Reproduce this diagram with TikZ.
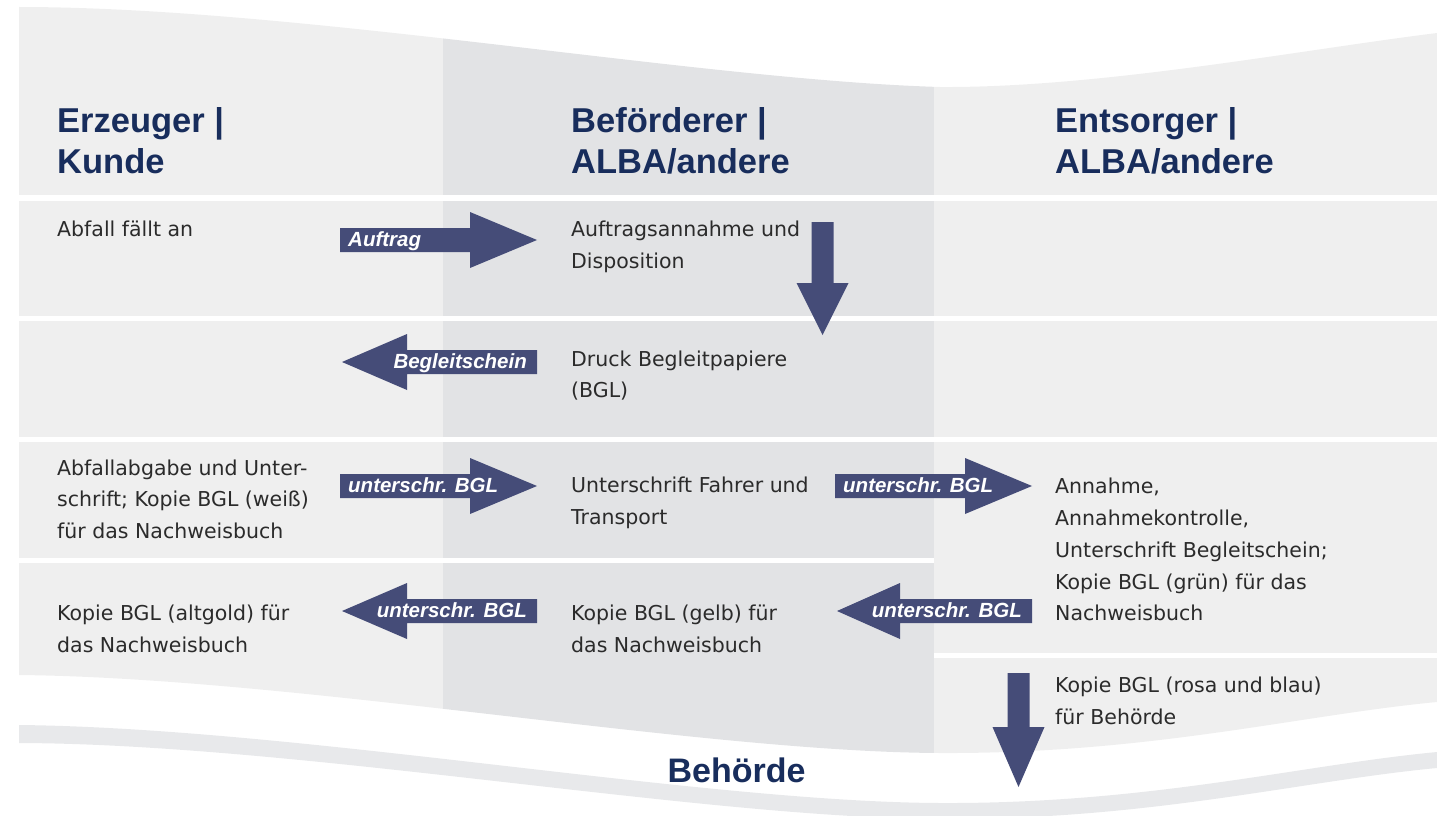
\documentclass[tikz,border=0pt]{standalone}
\usepackage{fontspec}
\setmainfont{Liberation Sans}
\newfontfamily\bodyfont{DejaVu Sans}

\definecolor{lanelight}{HTML}{EFEFEF}
\definecolor{lanedark}{HTML}{E2E3E5}
\definecolor{bandgray}{HTML}{E8E9EB}
\definecolor{arrowblue}{HTML}{454C78}
\definecolor{headnavy}{HTML}{182D5C}
\definecolor{bodygray}{HTML}{2B2B2B}

\begin{document}
\begin{tikzpicture}[x=1pt,y=-1pt,
	lane head/.style={anchor=north west,inner sep=0,align=left,text=headnavy,font=\fontsize{34.5}{41}\selectfont\bfseries},
	lane text/.style={anchor=north west,inner sep=0,align=left,text=bodygray,font=\bodyfont\fontsize{20.5}{31.8}\selectfont},
	arrow text/.style={inner sep=0,text=white,font=\fontsize{20.5}{24}\selectfont\bfseries\itshape}]

\useasboundingbox (0,0) rectangle (1437,816);

% lanes, cut by the waves
\begin{scope}
	\clip (19,7) .. controls (300,7) and (700,80) .. (940,87) .. controls (1100,88) and (1300,50) .. (1437,33)
		-- (1437,702) .. controls (1300,715) and (1150,754) .. (940,753) .. controls (700,752) and (300,678) .. (19,675) -- cycle;
	\fill [lanelight] (19,0) rectangle (443,816);
	\fill [lanedark] (443,0) rectangle (934,816);
	\fill [lanelight] (934,0) rectangle (1437,816);
	\foreach \xa / \xb / \ya / \yb in {19/1437/195/201, 19/1437/316/321, 19/1437/437/442, 19/934/558/563, 934/1437/653/658}
		\fill [white] (\xa,\ya) rectangle (\xb,\yb);
\end{scope}

\fill [bandgray] (19,725) .. controls (300,728) and (700,802) .. (940,803) .. controls (1150,804) and (1300,765) .. (1437,752)
	-- (1437,768) .. controls (1300,781) and (1150,820) .. (940,819) .. controls (700,818) and (300,744) .. (19,743) -- cycle;

\node [lane head] (erzeuger) at (57,103.3) {\strut Erzeuger |\\Kunde};
\node [lane head] (befoerderer) at (571,103.3) {\strut Beförderer |\\ALBA/andere};
\node [lane head] (entsorger) at (1055,103.3) {\strut Entsorger |\\ALBA/andere};

\node [lane text] (anfall) at (57,214.2) {\strut Abfall fällt an};
\node [lane text] (annahme) at (571,214.2) {\strut Auftragsannahme und\\Disposition};
\node [lane text] (druck) at (571,343.7) {\strut Druck Begleitpapiere\\(BGL)};
\node [lane text] (abgabe) at (57,452.7) {\strut Abfallabgabe und Unter-\\schrift; Kopie BGL (weiß)\\für das Nachweisbuch};
\node [lane text] (transport) at (571,470.2) {\strut Unterschrift Fahrer und\\Transport};
\node [lane text] (kontrolle) at (1055,471.2) {\strut Annahme,\\Annahmekontrolle,\\Unterschrift Begleitschein;\\Kopie BGL (grün) für das\\Nachweisbuch};
\node [lane text] (altgold) at (57,598.2) {\strut Kopie BGL (altgold) für\\das Nachweisbuch};
\node [lane text] (gelb) at (571,598.2) {\strut Kopie BGL (gelb) für\\das Nachweisbuch};
\node [lane text] (rosablau) at (1055,670.2) {\strut Kopie BGL (rosa und blau)\\für Behörde};

\node [anchor=base,inner sep=0,text=headnavy,font=\fontsize{34}{40}\selectfont\bfseries] (behoerde) at (736.5,782) {Behörde};

\foreach \xa / \xb / \xc / \yy / \nm / \an / \dx / \lab in {
								340/470/537/240/auftrag/west/8/Auftrag,
								537/407/342/362/begleit/east/-10/Begleitschein,
								340/470/537/486/bglA/west/8/unterschr. BGL,
								835/965/1032/486/bglB/west/8/unterschr. BGL,
								1032/900/837/611/bglC/east/-10/unterschr. BGL,
								537/407/342/611/bglD/east/-10/unterschr. BGL%
										}
	{%
		\fill [arrowblue] (\xa,\yy-12) -- (\xb,\yy-12) -- (\xb,\yy-28) -- (\xc,\yy) -- (\xb,\yy+28) -- (\xb,\yy+12) -- (\xa,\yy+12) -- cycle;
		\node [arrow text,anchor=base \an] (\nm) at (\xa+\dx,\yy+6) {\lab};
	}

\foreach \xm / \ya / \yb / \yc in {822.5/222/283/335, 1018.5/673/727/787}
	\fill [arrowblue] (\xm-11,\ya) -- (\xm+11,\ya) -- (\xm+11,\yb) -- (\xm+26,\yb) -- (\xm,\yc) -- (\xm-26,\yb) -- (\xm-11,\yb) -- cycle;

\end{tikzpicture}
\end{document}
